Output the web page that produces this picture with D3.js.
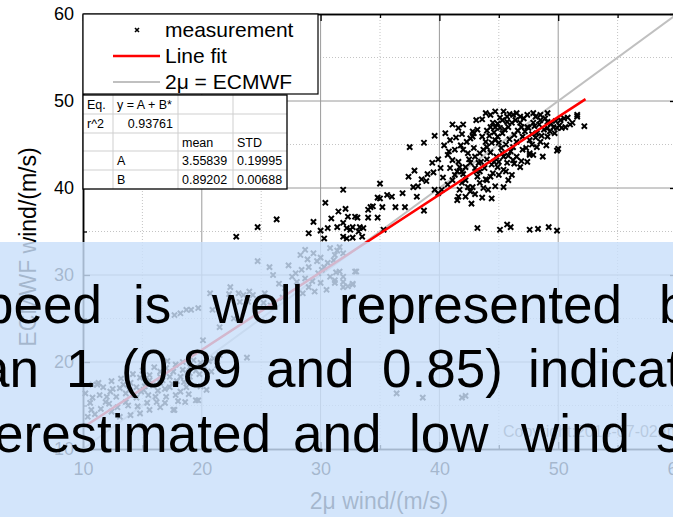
<!DOCTYPE html>
<html>
<head>
<meta charset="utf-8">
<script src="https://cdn.jsdelivr.net/npm/d3@7"></script>
<style>
body { margin: 0; background: #fff; }
text { font-family: "Liberation Sans", Arial, sans-serif; }
</style>
</head>
<body>
<svg width="673" height="517"></svg>
<script>
// measurement points: [2u wind, ECMWF wind]
var measurement = [
  [22.9,34.4],[24.7,35.5],[26.3,36.4],[30.4,38.3],[31.9,39.8],[29.4,36.1],[29.0,34.8],[30.0,35.1],[30.3,34.2],[31.5,37.3],
  [30.9,36.5],[30.6,35.4],[31.4,35.5],[31.9,36.0],[32.1,37.6],[32.3,36.7],[32.2,35.4],[32.5,35.2],[31.9,34.4],[32.7,34.3],
  [32.9,36.7],[33.1,36.6],[32.7,35.5],[33.3,35.5],[33.6,35.4],[33.2,35.0],[33.5,34.4],[32.2,34.2],[34.0,37.5],[34.2,37.8],
  [34.4,37.9],[34.8,38.9],[35.0,38.8],[35.2,37.8],[35.6,39.2],[36.0,39.0],[36.3,37.8],[36.9,39.4],[37.1,37.8],[37.4,41.3],
  [35.0,40.5],[34.0,36.6],[34.8,36.6],[37.8,40.1],[38.1,39.0],[35.3,35.2],[37.5,44.7],[38.7,45.2],[39.6,46.0],[41.6,46.9],
  [43.6,47.9],[40.1,42.3],[38.7,37.4],
  [43.2,35.4],[45.1,35.2],[45.7,35.8],[46.0,35.5],[47.6,35.2],[48.3,35.3],[49.2,35.5],[49.9,35.1],
  [50.0,44.5],[49.9,44.3],[48.7,43.6],[47.6,43.8],[52.2,47.1],[51.6,48.4],[51.0,47.3],[50.6,47.0],[49.9,46.9],
  [42.9,46.3],[42.8,46.5],[43.2,46.7],[42.3,45.3],[42.6,45.7],[42.8,45.9],[42.0,44.4],[42.4,44.0],[41.6,43.0],[41.7,42.4],
  [41.5,41.9],[41.9,41.9],[42.2,42.4],[42.6,42.9],[43.0,43.6],[43.4,44.0],[43.7,44.4],[44.0,44.7],[44.4,45.2],[44.7,45.5],
  [44.9,45.9],[45.3,46.3],[45.5,46.7],[45.8,47.0],[46.1,47.5],[46.4,47.8],[46.8,48.2],[47.4,48.4],[47.9,48.6],[48.5,48.4],
  [49.1,48.6],[45.7,48.2],[45.1,48.1],[44.5,47.5],[44.3,47.0],[44.7,47.0],[45.1,46.9],
  [46.2,48.4],[45.7,47.6],[46.8,47.5],[47.4,47.0],[47.9,47.5],[48.5,47.8],[49.1,47.6],[49.6,47.0],[50.2,47.8],[50.8,48.1],
  [51.2,47.5],[51.6,48.2],
  [47.6,44.0],[47.0,44.4],[46.5,43.6],[46.2,43.2],[45.7,42.9],[45.4,42.1],[44.9,42.4],[44.5,41.7],[44.3,41.3],[44.0,40.9],
  [43.4,40.6],[43.2,41.3],[42.8,40.1],[43.7,40.0],[44.1,39.8],[45.4,40.1],[45.8,40.9],[46.1,41.5],[46.8,42.4],[47.4,43.0],
  [47.9,43.8],[48.2,44.7],[48.5,45.3],[49.1,45.9],[49.3,46.5],[49.7,46.3],[50.3,46.9],[49.1,46.9],[48.2,46.3],[47.6,45.5],
  [47.0,45.9],[46.5,45.3],[46.2,44.7],[46.0,44.2],[45.4,43.6],[45.0,43.0],[44.4,42.7],[43.8,42.3],[43.4,41.9],[43.3,42.9],
  [43.0,42.3],[42.2,40.9],[41.9,40.6],[41.7,39.8],[41.6,39.0],[41.5,38.6],[42.2,39.0],[42.6,39.6],[42.4,40.1],[41.1,40.9],
  [40.7,40.4],[40.3,41.2],[40.2,39.8],[39.6,39.8],[39.9,39.4],[40.9,42.3],[41.3,41.5],
  [43.9,48.6],[44.3,48.4],[44.7,48.8],[45.4,48.8],[43.1,47.8],[42.0,47.3],[41.1,47.3],[40.5,46.3],[40.9,45.5],[41.3,44.4],
  [40.7,43.8],[41.1,43.2],
  [44.2,46.0],[44.6,46.4],[45.0,45.2],[45.2,44.6],[45.6,45.0],[45.9,45.6],[46.3,46.1],[46.6,46.6],[46.9,47.0],[47.2,46.5],
  [47.5,46.9],[47.8,46.2],[48.0,47.1],[48.4,47.3],[48.8,46.7],[49.4,47.4],[49.8,47.7],[50.1,47.2],[50.5,48.0],[48.9,48.0],
  [48.1,48.2],[47.1,48.0],[46.5,48.6],[45.9,48.5],[45.3,47.8],[44.9,47.4],[44.0,46.6],[43.6,45.9],[43.9,45.3],[44.3,44.1],
  [44.8,43.6],[45.3,44.0],[45.8,43.7],[46.3,42.8],[46.9,43.1],[47.3,44.6],[47.8,45.0],[48.1,45.8],[48.6,46.0],[49.0,44.9],
  [44.6,43.0],[45.0,41.5],[45.6,41.9],[44.0,43.3],[43.5,43.0],[42.9,44.6],[42.5,43.3],[43.1,41.9],[43.9,41.0],[44.7,40.2],
  [43.0,39.3],[43.6,38.9],[42.7,38.2],[44.4,38.8],[42.0,41.6],[41.8,44.9],[41.4,45.8],[41.9,46.2],[40.8,44.2],[39.9,43.3],
  [39.4,42.9],[40.4,44.9],[39.5,41.8],[38.9,40.8],[39.0,41.6],[38.5,41.0],[38.2,40.2],[37.9,42.0],
  [24.7,31.6],[25.7,30.9],[28.3,32.3],[28.7,32.9],[29.4,32.5],[30.0,32.0],[30.8,33.1],[31.6,33.2],[31.9,32.5],[27.6,29.8],
  [27.9,30.2],[28.4,30.6],[29.0,30.9],[29.8,30.2],[30.3,30.9],[30.8,29.8],[31.6,30.4],[31.9,29.8],[33.0,30.4],[29.0,28.6],
  [30.0,29.1],[30.5,28.3],[31.2,29.1],[31.9,28.6],[32.7,28.9],[29.5,28.1],[28.5,27.9],[22.4,28.6],[20.7,27.9],[22.3,27.8],
  [23.1,27.9],[23.5,27.7],[24.0,28.1],[24.3,27.7],[25.3,27.9],[23.2,26.9],[23.9,26.9],[25.2,26.8],[19.7,26.2],[19.1,26.0],
  [18.7,26.0],[18.2,25.6],[17.7,25.4],[20.9,26.0],[20.1,22.5],[23.8,20.5],[36.4,16.4],[38.6,15.9],[41.9,15.9],[42.2,16.1],
  [31.2,32.3],[31.4,32.8],[32.9,30.4],[31.3,30.3],[31.2,29.4],[31.9,29.2],[32.3,28.7],[32.7,29.0],
  [26.5,29.0],[27.0,28.5],[26.0,30.0],[27.3,31.1],[28.0,29.2],[28.7,29.6],[29.3,29.3],[30.1,30.6],[30.6,31.4],[31.1,31.7],
  [29.7,31.6],[28.9,31.8],[26.8,27.4],[25.8,26.5],[21.5,24.0],[22.7,25.0],
  [19.3,20.2],[18.4,20.0],[17.8,19.7],[17.0,19.3],[16.5,18.9],[15.6,18.5],[14.8,18.2],[14.0,17.6],[13.1,17.0],[12.3,16.6],
  [11.4,16.2],[10.8,15.9],[10.6,15.3],[10.7,14.5],[10.4,13.7],[11.7,17.1],[11.3,17.6],[20.4,16.8],[19.5,15.6],[18.6,15.4],
  [17.6,14.5],[16.5,14.8],[15.6,14.5],[14.8,14.1],[14.0,13.9],[13.1,13.7],[19.0,19.4],[19.9,19.9],[18.2,16.6],[17.3,17.1],
  [16.5,17.6],[15.6,17.9],[15.1,16.8],[16.1,16.0],[17.0,16.0],[17.8,16.2],[18.7,17.1],[19.0,18.3],[18.2,18.3],[17.3,18.3],
  [16.7,17.9],[18.4,19.1],[17.6,18.9],[16.5,18.3],[15.3,17.6],[14.5,17.1],[13.6,16.4],[12.8,16.0],[11.9,15.4],[13.6,15.4],
  [14.5,15.9],[15.5,16.2],[19.7,15.6],[17.7,14.5],[10.2,16.4],[10.8,17.4],[11.2,17.4],
  [12.0,16.0],[12.5,16.9],[13.4,17.4],[13.9,16.8],[14.3,16.2],[14.9,16.6],[15.2,17.2],[15.9,17.3],[16.3,16.7],[16.9,16.9],
  [17.5,17.5],[17.9,17.8],[18.5,17.7],[18.9,18.8],[19.5,19.0],[19.8,18.6],[20.2,19.5],[20.6,20.1],[21.0,20.4],[21.5,20.8],
  [20.8,18.9],[21.3,19.6],[12.2,15.2],[12.9,14.8],[13.8,15.0],[14.6,14.9],[15.4,15.3],[16.2,15.4],[16.9,15.3],[18.0,15.5],
  [18.9,16.3],[19.9,17.2],[11.5,14.6],[11.0,14.0],[12.4,14.3],[16.0,19.4],[17.1,20.1],[15.0,19.0],[14.2,18.6],[13.2,18.1],
  [12.4,17.8]
];

// linear fit y = A + B*x
var fitA = 3.55839, fitB = 0.89202;
var fitRange = [10, 52.3];
var idRange = [10, 60];

var majorTicks = [10, 20, 30, 40, 50, 60];
var minorTicks = [15, 25, 35, 45, 55];
var legendLabels = ["measurement", "Line fit", "2μ = ECMWF"];
var tableRows = [
  ["Eq.", "y = A + B*", "", ""],
  ["r^2", "0.93761", "", ""],
  ["", "", "mean", "STD"],
  ["", "A", "3.55839", "0.19995"],
  ["", "B", "0.89202", "0.00688"]
];
var overlayLines = [
  ["peed", "is", "well", "represented", "b"],
  ["an", "1", "(0.89", "and", "0.85)", "indicat"],
  ["erestimated", "and", "low", "wind", "s"]
];

// layout of the slide text laid over the chart
var overlayWordX = [
  [-16, 133, 212, 339, 659],
  [-20, 66, 121, 266, 382, 528],
  [-6, 293, 409, 521, 656]
];
var overlayBase = [323, 387, 452];

var svg = d3.select("svg");
var x = d3.scaleLinear().domain([10, 60]).range([83, 677]);
var y = d3.scaleLinear().domain([10, 60]).range([449, 14]);

// grid
var grid = svg.append("g");
grid.selectAll(".gx").data(minorTicks).enter().append("line")
  .attr("x1", d => x(d)).attr("x2", d => x(d)).attr("y1", 14).attr("y2", 449)
  .attr("stroke", "#c4c4c4").attr("stroke-dasharray", "1,2");
grid.selectAll(".gy").data(minorTicks).enter().append("line")
  .attr("y1", d => y(d)).attr("y2", d => y(d)).attr("x1", 83).attr("x2", 677)
  .attr("stroke", "#c4c4c4").attr("stroke-dasharray", "1,2");
grid.selectAll(".Gx").data(majorTicks.slice(1, 5)).enter().append("line")
  .attr("x1", d => x(d)).attr("x2", d => x(d)).attr("y1", 14).attr("y2", 449)
  .attr("stroke", "#9a9a9a");
grid.selectAll(".Gy").data(majorTicks.slice(1, 5)).enter().append("line")
  .attr("y1", d => y(d)).attr("y2", d => y(d)).attr("x1", 83).attr("x2", 677)
  .attr("stroke", "#9a9a9a");

// reference and fit lines
var line = d3.line().x(d => x(d[0])).y(d => y(d[1]));
svg.append("path").datum(idRange.map(v => [v, v]))
  .attr("d", line).attr("stroke", "#c0c0c0").attr("stroke-width", 2).attr("fill", "none");

// points
svg.append("g").selectAll("path").data(measurement).enter().append("path")
  .attr("transform", d => "translate(" + x(d[0]) + "," + y(d[1]) + ")")
  .attr("d", "M-2.6,-2.6L2.6,2.6M-2.6,2.6L2.6,-2.6")
  .attr("stroke", "#000").attr("stroke-width", 2);

svg.append("path").datum(fitRange.map(v => [v, fitA + fitB * v]))
  .attr("d", line).attr("stroke", "#ff0000").attr("stroke-width", 2.5).attr("fill", "none");

// axes
function styleAxis(g) {
  g.selectAll("text").attr("font-size", 18).attr("fill", "#000")
    .attr("font-family", "'Liberation Sans', Arial, sans-serif");
  g.selectAll("line").attr("stroke", "#000").attr("stroke-width", 1.3);
  g.select(".domain").attr("stroke", "#000").attr("stroke-width", 1.5);
}
svg.append("g").attr("transform", "translate(0,449)")
  .call(d3.axisBottom(x).tickValues(majorTicks).tickSize(-7).tickSizeOuter(0).tickPadding(13))
  .call(styleAxis);
svg.append("g").attr("transform", "translate(0,449)")
  .call(d3.axisBottom(x).tickValues(minorTicks).tickSize(-4).tickSizeOuter(0).tickFormat(""))
  .call(styleAxis);
svg.append("g").attr("transform", "translate(83,0)")
  .call(d3.axisLeft(y).tickValues(majorTicks).tickSize(-7).tickSizeOuter(0).tickPadding(9))
  .call(styleAxis);
svg.append("g").attr("transform", "translate(83,0)")
  .call(d3.axisLeft(y).tickValues(minorTicks).tickSize(-4).tickSizeOuter(0).tickFormat(""))
  .call(styleAxis);
svg.append("g").attr("transform", "translate(0,14)")
  .call(d3.axisTop(x).tickValues(majorTicks).tickSize(-7).tickSizeOuter(0).tickFormat(""))
  .call(styleAxis);
svg.append("g").attr("transform", "translate(0,14)")
  .call(d3.axisTop(x).tickValues(minorTicks).tickSize(-4).tickSizeOuter(0).tickFormat(""))
  .call(styleAxis);
svg.append("g").attr("transform", "translate(677,0)")
  .call(d3.axisRight(y).tickValues(majorTicks).tickSize(-7).tickSizeOuter(0).tickFormat(""))
  .call(styleAxis);
svg.append("g").attr("transform", "translate(677,0)")
  .call(d3.axisRight(y).tickValues(minorTicks).tickSize(-4).tickSizeOuter(0).tickFormat(""))
  .call(styleAxis);

svg.append("text").attr("x", 379).attr("y", 509).attr("text-anchor", "middle")
  .attr("font-size", 23).text("2μ wind/(m/s)");
svg.append("text").attr("transform", "translate(36,247) rotate(-90)").attr("text-anchor", "middle")
  .attr("font-size", 23).text("ECMWF wind/(m/s)");

svg.append("text").attr("x", 503).attr("y", 437).attr("font-size", 16).attr("fill", "#666")
  .text("Copyright:2014-07-02am");

// legend
var lg = svg.append("g");
lg.append("rect").attr("x", 83).attr("y", 14).attr("width", 235).attr("height", 80)
  .attr("fill", "#fff").attr("stroke", "#000").attr("stroke-width", 1.2);
lg.selectAll("text").data(legendLabels).enter().append("text")
  .attr("x", 165).attr("y", (d, i) => 37 + i * 26).attr("font-size", 21).text(d => d);
lg.append("path").attr("transform", "translate(137,30)")
  .attr("d", "M-2,-2L2,2M-2,2L2,-2").attr("stroke", "#000").attr("stroke-width", 1.6);
lg.append("line").attr("x1", 113).attr("x2", 160).attr("y1", 56).attr("y2", 56)
  .attr("stroke", "#ff0000").attr("stroke-width", 2.5);
lg.append("line").attr("x1", 113).attr("x2", 160).attr("y1", 82).attr("y2", 82)
  .attr("stroke", "#c0c0c0").attr("stroke-width", 2);

// fit table
var colX = [83, 113, 178, 233, 287];
var rowY = [95, 114, 133, 151, 170, 189];
var tb = svg.append("g");
tb.append("rect").attr("x", 83).attr("y", 95).attr("width", 204).attr("height", 94)
  .attr("fill", "#fff");
tb.selectAll(".cv").data(colX.slice(1, 4)).enter().append("line")
  .attr("x1", d => d).attr("x2", d => d).attr("y1", 95).attr("y2", 189).attr("stroke", "#cfcfcf");
tb.selectAll(".rh").data(rowY.slice(1, 5)).enter().append("line")
  .attr("y1", d => d).attr("y2", d => d).attr("x1", 83).attr("x2", 287).attr("stroke", "#cfcfcf");
tb.append("rect").attr("x", 83).attr("y", 95).attr("width", 204).attr("height", 94)
  .attr("fill", "none").attr("stroke", "#000").attr("stroke-width", 1.3);
tableRows.forEach(function (row, r) {
  row.forEach(function (cell, c) {
    if (!cell) return;
    var right = (r === 1 && c === 1);
    tb.append("text")
      .attr("x", right ? colX[c + 1] - 5 : colX[c] + 4)
      .attr("y", rowY[r] + 14)
      .attr("text-anchor", right ? "end" : "start")
      .attr("font-size", 12.5).text(cell);
  });
});

// slide overlay
svg.append("rect").attr("x", 0).attr("y", 242).attr("width", 673).attr("height", 275)
  .attr("fill", "rgb(201,223,250)").attr("opacity", 0.82);
overlayLines.forEach(function (words, li) {
  svg.append("g").selectAll("text").data(words).enter().append("text")
    .attr("x", (d, i) => overlayWordX[li][i]).attr("y", overlayBase[li])
    .attr("font-size", 53).attr("fill", "#000").text(d => d);
});
</script>
</body>
</html>
